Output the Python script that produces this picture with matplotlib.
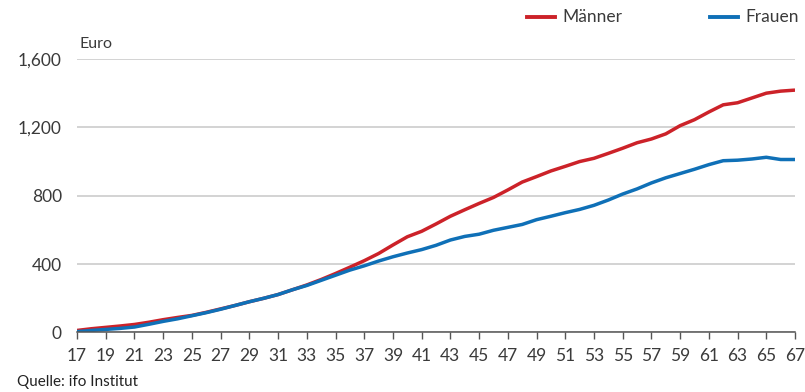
import matplotlib
matplotlib.use("Agg")
import matplotlib.pyplot as plt
from matplotlib.ticker import FuncFormatter

plt.rcParams['font.family'] = ['Lato', 'DejaVu Sans']

# Age in years
ages = list(range(17, 68))

# Monthly amount in euro by age
maenner = [12, 22, 30, 38, 47, 60, 75, 88, 100, 118,
           138, 158, 180, 200, 222, 250, 278, 310, 345, 382,
           420, 462, 512, 560, 592, 635, 680, 718, 755, 790,
           834, 880, 912, 945, 972, 1000, 1019, 1048, 1078, 1110,
           1132, 1162, 1210, 1245, 1290, 1332, 1344, 1372, 1400, 1412,
           1418]
frauen = [5, 12, 18, 24, 32, 48, 65, 80, 98, 116,
          136, 158, 180, 200, 222, 250, 275, 305, 335, 365,
          390, 418, 443, 465, 485, 510, 541, 562, 575, 598,
          615, 632, 660, 680, 701, 720, 744, 775, 810, 840,
          875, 905, 930, 955, 982, 1005, 1008, 1015, 1025, 1012,
          1012]

x_ticks = list(range(17, 68, 2))
y_ticks = [0, 400, 800, 1200, 1600]

RED = '#cc2229'
BLUE = '#0f70b7'
TXT = '#3a3a3a'

fig = plt.figure(figsize=(8.05, 3.92), dpi=100)
ax = fig.add_axes([0.0957, 0.1518, 0.8919, 0.6977])

ax.plot(ages, maenner, color=RED, lw=2.5, solid_capstyle='butt', zorder=3)
ax.plot(ages, frauen, color=BLUE, lw=2.5, solid_capstyle='butt', zorder=4)

ax.set_xlim(17, 67)
ax.set_ylim(0, 1600)
ax.set_xticks(x_ticks)
ax.set_yticks(y_ticks)
ax.yaxis.set_major_formatter(FuncFormatter(lambda v, p: f"{int(v):,}"))

ax.grid(axis='y', color='#c8c8c8', lw=1.1, zorder=0)
ax.set_axisbelow(True)
for s in ['top', 'right', 'left']:
    ax.spines[s].set_visible(False)
ax.spines['bottom'].set_color('#555555')
ax.spines['bottom'].set_linewidth(1.1)
ax.spines['bottom'].set_zorder(5)

ax.tick_params(axis='x', direction='out', length=5, width=1.0, color='#555555',
               labelsize=12.5, labelcolor=TXT, pad=6)
ax.tick_params(axis='y', length=0, labelsize=12.5, labelcolor=TXT, pad=11)

fig.text(79 / 805, 1 - 44 / 392, 'Euro', fontsize=11.5, color=TXT,
         ha='left', va='center')
fig.text(17 / 805, 1 - 382 / 392, 'Quelle: ifo Institut', fontsize=11,
         color='#222222', ha='left', va='center')

# Legend drawn as figure-level lines and labels
for x0, color, label in [(527, RED, 'Männer'), (710, BLUE, 'Frauen')]:
    fig.add_artist(plt.Line2D([x0 / 805, (x0 + 28) / 805],
                              [1 - 17 / 392, 1 - 17 / 392],
                              color=color, lw=2.8, transform=fig.transFigure))
    fig.text((x0 + 35) / 805, 1 - 17 / 392, label, fontsize=12.5, color=TXT,
             ha='left', va='center')

fig.savefig('out.png', dpi=100, facecolor='white')
